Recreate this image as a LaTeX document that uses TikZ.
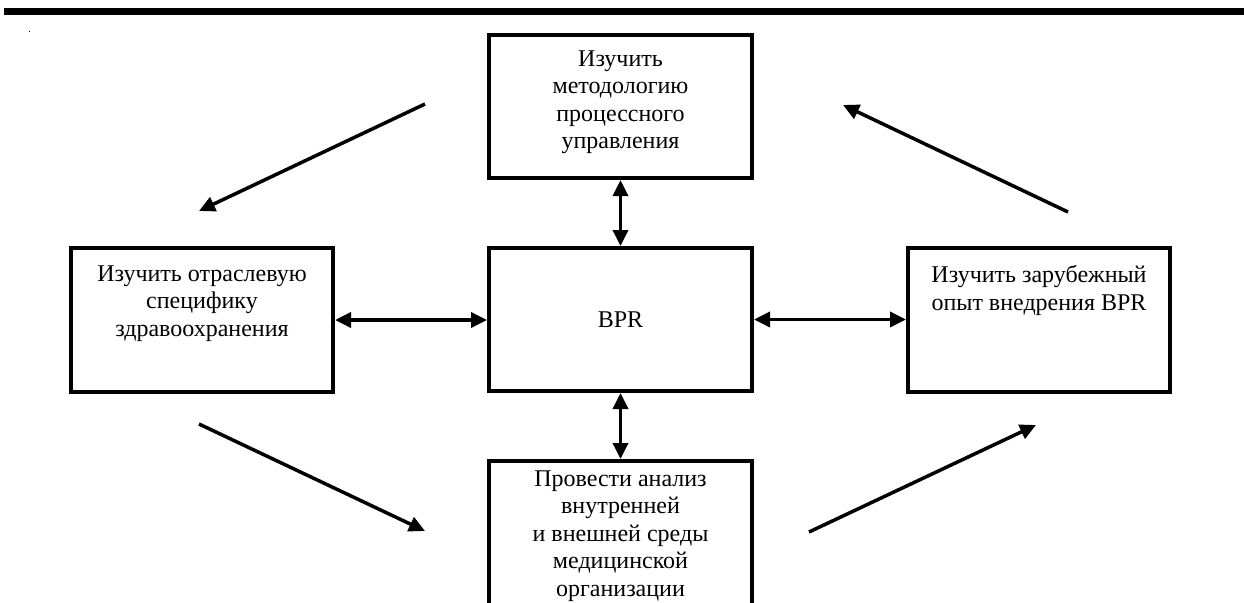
\documentclass[tikz,border=0pt]{standalone}
\usepackage{fontspec}
\setmainfont{Liberation Serif}
\usetikzlibrary{arrows.meta}
\begin{document}
\begin{tikzpicture}[x=1pt,y=-1pt,
  box/.style={draw, line width=4pt, rectangle, inner sep=0pt, minimum width=263pt},
  txt/.style={font=\fontsize{24}{27.5}\selectfont, align=center, inner sep=0pt},
  arr/.style={line width=3.5pt, -{Triangle[length=16pt,width=15pt]}},
  darr/.style={line width=3.5pt, {Triangle[length=16pt,width=15pt]}-{Triangle[length=16pt,width=15pt]}}]
\useasboundingbox (0,0) rectangle (1244,602);
\fill (3.5,8.5) rectangle (1244,15);
\fill (28.6,31.2) rectangle (29.4,32.4);
% boxes
\node[box, minimum height=143.3pt] (top) at (620.5,106.4) {};
\node[box, minimum height=143pt] (center) at (620.5,319.5) {};
\node[box, minimum width=262pt, minimum height=144pt] (left) at (202,320) {};
\node[box, minimum width=262pt, minimum height=144pt] (right) at (1039,320) {};
\node[box, minimum height=179pt] (bottom) at (620.5,550.5) {};
% texts
\node[txt, anchor=north] (ttop) at (620.5,50.5) {Изучить\\методологию\\процессного\\управления};
\node[txt] (tcenter) at (620.5,320) {BPR};
\node[txt, anchor=north] (tleft) at (202,265.5) {Изучить отраслевую\\специфику\\здравоохранения};
\node[txt, anchor=north] (tright) at (1039,265.5) {Изучить зарубежный\\опыт внедрения BPR};
\node[txt, anchor=north] (tbottom) at (620.5,470.5) {Провести анализ\\внутренней\\и внешней среды\\медицинской\\организации};
% double arrows
\draw[darr] (top.south) -- (center.north);
\draw[darr] (center.south) -- (bottom.north);
\draw[darr] (left.east) -- (left.east -| center.west);
\draw[darr] (center.east) -- (center.east -| right.west);
% cycle arrows
\coordinate (a1) at (425,104);
\coordinate (a2) at (199,211);
\coordinate (b1) at (199,424);
\coordinate (b2) at (425,531);
\coordinate (c1) at (809,532);
\coordinate (c2) at (1036,425);
\coordinate (d1) at (1068,212);
\coordinate (d2) at (843,105);
\draw[arr] (a1) -- (a2);
\draw[arr] (b1) -- (b2);
\draw[arr] (c1) -- (c2);
\draw[arr] (d1) -- (d2);
\end{tikzpicture}
\end{document}
